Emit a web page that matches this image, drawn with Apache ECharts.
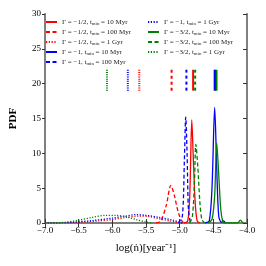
<!DOCTYPE html>
<html><head><meta charset="utf-8">
<script src="https://cdn.jsdelivr.net/npm/echarts@6/dist/echarts.min.js"></script>
<style>html,body{margin:0;padding:0;background:#fff}#c{width:266px;height:266px}</style>
</head><body><div id="c"></div>
<script>
// Legend label parts
const gammaLabels = ['−1/2','−1/2','−1/2','−1','−1','−1','−3/2','−3/2','−3/2'];
const tminLabels = ['10 Myr','100 Myr','1 Gyr','10 Myr','100 Myr','1 Gyr','10 Myr','100 Myr','1 Gyr'];
const colors = ['#ff0000','#ff0000','#ff0000','#0000ff','#0000ff','#0000ff','#008000','#008000','#008000'];
const styles = ['solid','dashed','dotted','solid','dashed','dotted','solid','dashed','dotted'];

// Curves: x (log ndot) and PDF values
const redSolidX = [-4.93,-4.88,-4.85,-4.82,-4.80,-4.77,-4.74,-4.70];
const redSolidY = [0,0.3,4,14.8,10,3,0.3,0];
const redDashX = [-5.35,-5.28,-5.20,-5.13,-5.08,-5.02,-4.96,-4.90];
const redDashY = [0,0.3,2.5,5.4,4,1.5,0.2,0];
const redDotX = [-7.0,-6.5,-6.2,-6.0,-5.8,-5.6,-5.45,-5.3,-5.15,-5.0,-4.9];
const redDotY = [0,0.1,0.3,0.5,0.8,1.0,0.9,0.6,0.3,0.05,0];
const blueSolidX = [-4.62,-4.56,-4.52,-4.48,-4.45,-4.42,-4.38,-4.35,-4.32];
const blueSolidY = [0,0.3,5,16.6,8,1,0.1,0.3,0];
const blueDashX = [-5.02,-4.96,-4.93,-4.91,-4.89,-4.87,-4.84];
const blueDashY = [0,1,9,15.2,10,2,0];
const blueDotX = [-7.0,-6.6,-6.3,-6.0,-5.8,-5.65,-5.5,-5.3,-5.1,-5.0,-4.95];
const blueDotY = [0,0.1,0.35,0.7,1.0,1.2,1.1,0.8,0.4,0.1,0];
const greenSolidX = [-4.58,-4.52,-4.48,-4.45,-4.42,-4.39,-4.36,-4.33,-4.14,-4.10,-4.06];
const greenSolidY = [0,0.5,4,11.5,7,2,0.2,0,0,0.4,0];
const greenDashX = [-4.85,-4.81,-4.78,-4.76,-4.73,-4.70,-4.67,-4.63];
const greenDashY = [0,1,6,11.3,8,3,0.5,0];
const greenDotX = [-7.0,-6.7,-6.5,-6.3,-6.1,-5.95,-5.8,-5.65,-5.5,-5.4];
const greenDotY = [0,0.1,0.4,0.8,1.1,1.1,0.9,0.5,0.15,0];

// Vertical marker positions (median markers) and their span
const markerX = [-4.80,-5.12,-5.60,-4.48,-4.90,-5.77,-4.46,-4.77,-6.08];
const markerLow = 19;
const markerHigh = 22;

// Axis ticks
const xTicks = [-7.0,-6.5,-6.0,-5.5,-5.0,-4.5,-4.0];
const yTicks = [0,5,10,15,20,25,30];

const curveX = [redSolidX,redDashX,redDotX,blueSolidX,blueDashX,blueDotX,greenSolidX,greenDashX,greenDotX];
const curveY = [redSolidY,redDashY,redDotY,blueSolidY,blueDashY,blueDotY,greenSolidY,greenDashY,greenDotY];

const names = gammaLabels.map((g,i)=>'Γ = '+g+', t_min = '+tminLabels[i]);
const typeMap = {solid:'solid', dashed:[4,2.5], dotted:[1.2,1.6]};

const series = [];
curveX.forEach((xs,i)=>{
  series.push({
    name:names[i], type:'line', showSymbol:false, symbol:'none', smooth:0.3,
    data: xs.map((x,k)=>[x,curveY[i][k]]),
    lineStyle:{color:colors[i], width:1.3, type:typeMap[styles[i]]},
    itemStyle:{color:colors[i]}, z:3
  });
});
markerX.forEach((x,i)=>{
  series.push({
    type:'line', showSymbol:false, symbol:'none', silent:true,
    data:[[x,markerLow],[x,markerHigh]],
    lineStyle:{color:colors[i], width: i===6?3:2, type: styles[i]==='dotted'?[1,1.2]:(styles[i]==='dashed'?[3,3]:'solid')},
    z: i===6?2:3
  });
});

const rich = {
  n:{fontFamily:'Liberation Serif', fontSize:7, color:'#222', lineHeight:8},
  s:{fontFamily:'Liberation Serif', fontSize:4.8, color:'#222', lineHeight:8, padding:[3,0,0,0]}
};
function fmt(name){
  const p = name.split('t_min');
  return '{n|'+p[0]+'t}{s|min}{n|'+p[1]+'}';
}
const legendCommon = {
  orient:'vertical', itemWidth:11, itemHeight:6, itemGap:2, padding:0,
  itemStyle:{opacity:0, borderWidth:0},
  textStyle:{rich:rich, fontFamily:'Liberation Serif', fontSize:7, lineHeight:8},
  formatter:fmt, selectedMode:false
};

const axisLine = {show:true, lineStyle:{color:'#808080', width:2}};
const option = {
  animation:false,
  backgroundColor:'#fff',
  grid:{left:40, right:19, top:14, bottom:43},
  legend:[
    Object.assign({left:45, top:18, data:names.slice(0,5)}, legendCommon),
    Object.assign({left:147, top:18, data:names.slice(5)}, legendCommon)
  ],
  xAxis:[{
    type:'value', min:-7.0, max:-4.0, interval:0.5,
    name:'log(ṅ)[year⁻¹]', nameLocation:'middle', nameGap:20,
    nameTextStyle:{fontFamily:'Liberation Serif', fontSize:11, color:'#000'},
    axisLine:axisLine, splitLine:{show:false},
    axisTick:{inside:true, length:4, lineStyle:{color:'#333'}},
    axisLabel:{fontFamily:'Liberation Serif', fontSize:9, color:'#000', margin:3,
      formatter:v=>(v<0?'−':'')+Math.abs(v).toFixed(1)}
  },{
    type:'value', position:'top', min:-7.0, max:-4.0, interval:0.5,
    axisLine:axisLine, splitLine:{show:false},
    axisTick:{inside:true, length:4, lineStyle:{color:'#333'}}, axisLabel:{show:false}
  }],
  yAxis:[{
    type:'value', min:0, max:30, interval:5,
    name:'PDF', nameLocation:'middle', nameGap:26,
    nameTextStyle:{fontFamily:'Liberation Serif', fontSize:11, fontWeight:'bold', color:'#000'},
    axisLine:axisLine, splitLine:{show:false},
    axisTick:{show:true, inside:false, length:3, lineStyle:{color:'#333'}},
    axisLabel:{fontFamily:'Liberation Serif', fontSize:9, color:'#000', margin:4}
  },{
    type:'value', position:'right', min:0, max:30, interval:5,
    axisLine:axisLine, splitLine:{show:false},
    axisTick:{inside:true, length:4, lineStyle:{color:'#333'}}, axisLabel:{show:false}
  }],
  series:series
};
echarts.init(document.getElementById('c'),null,{renderer:'canvas'}).setOption(option);
</script></body></html>
